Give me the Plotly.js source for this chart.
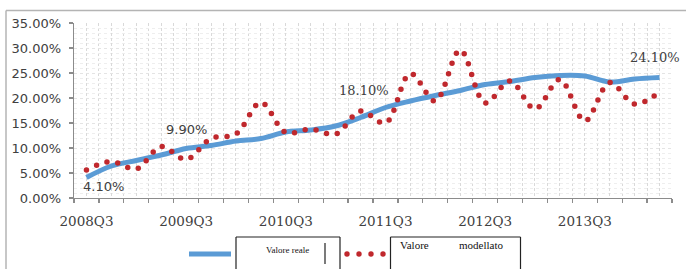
<!DOCTYPE html>
<html>
<head>
<meta charset="utf-8">
<script src="https://cdn.plot.ly/plotly-3.0.1.min.js"></script>
<style>
  html, body { margin: 0; padding: 0; background: #ffffff; }
  #chart { width: 686px; height: 269px; }
</style>
</head>
<body>
<div id="chart"></div>
<script>
// ---- data ----
const quarters = [
  "2008Q3","2008Q4","2009Q1","2009Q2","2009Q3","2009Q4","2010Q1","2010Q2",
  "2010Q3","2010Q4","2011Q1","2011Q2","2011Q3","2011Q4","2012Q1","2012Q2",
  "2012Q3","2012Q4","2013Q1","2013Q2","2013Q3","2013Q4","2014Q1","2014Q2"
];
const valoreReale = [
  4.1, 6.4, 7.5, 8.6, 9.9, 10.5, 11.4, 11.9,
  13.2, 13.6, 14.4, 16.1, 18.1, 19.4, 20.5, 21.5,
  22.7, 23.3, 24.1, 24.5, 24.4, 23.2, 23.8, 24.1
];
const valoreModellato = [
  5.6, 7.3, 5.8, 10.3, 7.7, 11.9, 12.8, 19.1,
  13.1, 13.8, 12.8, 17.4, 15.0, 24.9, 19.4, 29.6,
  19.0, 23.4, 17.8, 23.7, 15.4, 23.1, 18.8, 21.2
];
const seriesNames = ["Valore reale", "Valore modellato"];
const labelledIdx = [0, 4, 12, 23];
const yTicks = [0, 5, 10, 15, 20, 25, 30, 35];

// ---- derived ----
const xIdx = quarters.map((q, i) => i);
const tickText = quarters.map((q, i) => (i % 4 === 0 ? q : ""));

const BLUE = "#5b9bd5";
const RED = "#c0282d";
const TXT = "#404040";

const traces = [
  {
    x: xIdx, y: valoreReale, name: seriesNames[0], type: "scatter", mode: "lines",
    line: { color: BLUE, width: 5, shape: "spline", smoothing: 1 },
    hoverinfo: "skip"
  },
  {
    x: xIdx, y: valoreModellato, name: seriesNames[1], type: "scatter", mode: "lines",
    line: { color: RED, width: 5.5, shape: "spline", smoothing: 1, dash: "0px,11px" },
    hoverinfo: "skip"
  }
];

// paper helpers (plot area: x 74..672, y 23..198)
const PL = 74, PW = 598, PT = 23, PH = 175;
const px = v => (v - PL) / PW;
const py = v => (PT + PH - v) / PH;

function seg(x0, y0, x1, y1, color, width) {
  return { type: "line", xref: "paper", yref: "paper",
           x0: px(x0), x1: px(x1), y0: py(y0), y1: py(y1),
           line: { color: color, width: width } };
}

const BOX = "#222222";
const shapes = [
  // outer chart border (top and left visible; rest outside the picture)
  seg(6, 10.5, 686, 10.5, "#b4b4b4", 1.5),
  seg(6, 10.5, 6, 269, "#b4b4b4", 1.5),
  // legend: blue line sample
  seg(189, 254, 231, 254, BLUE, 5),
  // legend text boxes (open at the bottom edge of the picture)
  seg(236, 237, 340, 237, BOX, 1.2),
  seg(236, 237, 236, 269, BOX, 1.2),
  seg(340, 237, 340, 269, BOX, 1.2),
  seg(325, 243, 325, 264, BOX, 1.2),
  seg(390.5, 237, 520.5, 237, BOX, 1.2),
  seg(390.5, 237, 390.5, 269, BOX, 1.2),
  seg(520.5, 237, 520.5, 269, BOX, 1.2)
];
// legend red dots sample
[347, 359, 371, 383].forEach(cx => {
  shapes.push({ type: "circle", xref: "paper", yref: "paper",
    x0: px(cx - 2.7), x1: px(cx + 2.7), y0: py(254 + 2.7), y1: py(254 - 2.7),
    line: { width: 0 }, fillcolor: RED });
});

const labelOffsets = {
  0: { xshift: 17.5, yshift: -9, font: "DejaVu Sans" },
  4: { xshift: 0, yshift: 19, font: "DejaVu Sans" },
  12: { xshift: -21.5, yshift: 17, font: "DejaVu Serif" },
  23: { xshift: -4.5, yshift: 20, font: "DejaVu Serif" }
};

const annotations = labelledIdx.map(i => ({
  x: xIdx[i], y: valoreReale[i], xref: "x", yref: "y",
  text: valoreReale[i].toFixed(2) + "%", showarrow: false,
  xshift: labelOffsets[i].xshift, yshift: labelOffsets[i].yshift,
  font: { family: labelOffsets[i].font, size: 13, color: TXT }
}));
annotations.push({
  xref: "paper", yref: "paper", x: px(287), y: py(257), text: seriesNames[0],
  showarrow: false, font: { family: "Liberation Serif", size: 9, color: "#111111" }
});
annotations.push({
  xref: "paper", yref: "paper", x: px(451), y: py(253),
  text: seriesNames[1].replace(" ", "\u00a0".repeat(11)),
  showarrow: false, font: { family: "Liberation Serif", size: 11, color: "#111111" }
});

const layout = {
  width: 686, height: 269,
  margin: { l: PL, r: 686 - PL - PW, t: PT, b: 269 - PT - PH, pad: 0 },
  paper_bgcolor: "#ffffff", plot_bgcolor: "#ffffff",
  showlegend: false,
  xaxis: {
    type: "linear", range: [-0.5, quarters.length - 0.5],
    tickmode: "array", tickvals: xIdx, ticktext: tickText,
    ticks: "", showgrid: true, gridcolor: "#d9d9d9", griddash: "3px,2px", gridwidth: 1,
    zeroline: false, showline: true, linecolor: "#8c8c8c", linewidth: 1.3,
    tickfont: { family: "DejaVu Serif", size: 13.5, color: TXT },
    ticklabelstandoff: 10,
    minor: { tick0: -0.5, dtick: 1, ticks: "outside", ticklen: 4, tickcolor: "#8c8c8c", tickwidth: 1.2,
             showgrid: true, gridcolor: "#d9d9d9", griddash: "3px,2px", gridwidth: 1 },
    fixedrange: true
  },
  yaxis: {
    range: [0, 35], tickmode: "array", tickvals: yTicks,
    ticktext: yTicks.map(v => v.toFixed(2) + "%"),
    ticks: "outside", ticklen: 4, tickcolor: "#8c8c8c", tickwidth: 1.2,
    showgrid: true, gridcolor: "#e4e4e4", griddash: "dot", gridwidth: 1,
    zeroline: false, showline: true, linecolor: "#8c8c8c", linewidth: 1.3,
    tickfont: { family: "DejaVu Sans", size: 13, color: TXT },
    ticklabelstandoff: 5,
    minor: { tick0: 0, dtick: 1, ticks: "", showgrid: true, gridcolor: "#eeeeee", griddash: "dot", gridwidth: 1 },
    fixedrange: true
  },
  shapes: shapes,
  annotations: annotations
};

Plotly.newPlot("chart", traces, layout, { displayModeBar: false, staticPlot: true }).then(gd => {
  const tr = gd.querySelectorAll(".scatterlayer .trace");
  if (tr[1]) {
    tr[1].querySelectorAll("path.js-line").forEach(p => {
      p.style.strokeLinecap = "round";
      p.setAttribute("stroke-linecap", "round");
    });
  }
});
</script>
</body>
</html>
